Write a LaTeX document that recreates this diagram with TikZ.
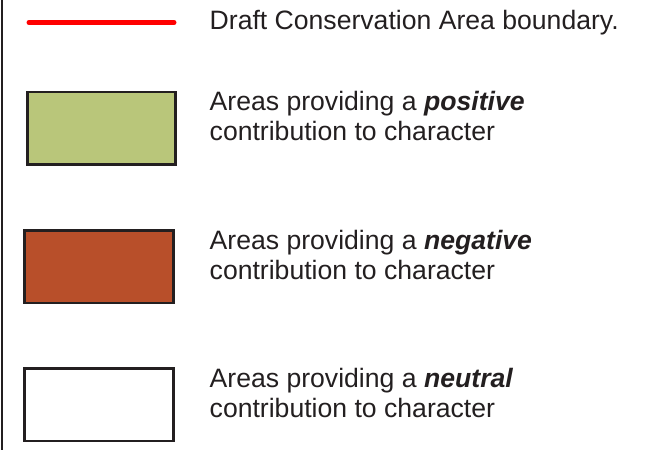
\documentclass[tikz,border=0pt]{standalone}
\usepackage{fontspec}
\setmainfont{Liberation Sans}
\definecolor{ink}{HTML}{231F20}
\definecolor{posgreen}{HTML}{B9C67A}
\definecolor{negbrown}{HTML}{B84F2A}
\definecolor{redline}{HTML}{FF0000}
\begin{document}
\begin{tikzpicture}[x=1pt,y=-1pt,
  swatch/.style={draw=ink,line width=2.6pt},
  legtext/.style={anchor=base west,inner sep=0pt,text=ink,
    font=\fontsize{26.6}{30.2}\selectfont}]
\useasboundingbox (0,0) rectangle (659,450);
% left frame line
\coordinate (ftop) at (2,0);
\coordinate (fbot) at (2,450);
\draw[ink,line width=2pt] (ftop) -- (fbot);
% red boundary line
\coordinate (rl) at (29,22.5);
\coordinate (rr) at (174,22.5);
\draw[redline,line width=5pt,line cap=round] (rl) -- (rr);
% swatches
\draw[swatch,fill=posgreen] (27.3,92) rectangle (175.3,164.3);
\draw[swatch,fill=negbrown] (24.6,230.6) rectangle (173.3,303);
\draw[swatch,fill=white] (24.6,368.6) rectangle (173.3,441);
% texts
\node[legtext] (t1) at (209.5,29.5) {Draft Conservation Area boundary.};
\node[legtext] (t2) at (209.5,110.5) {\begin{tabular}[t]{@{}l@{}}Areas providing a \textbf{\textit{positive}}\\contribution to character\end{tabular}};
\node[legtext] (t3) at (209.5,249.5) {\begin{tabular}[t]{@{}l@{}}Areas providing a \textbf{\textit{negative}}\\contribution to character\end{tabular}};
\node[legtext] (t4) at (209.5,387.5) {\begin{tabular}[t]{@{}l@{}}Areas providing a \textbf{\textit{neutral}}\\contribution to character\end{tabular}};
\end{tikzpicture}
\end{document}
